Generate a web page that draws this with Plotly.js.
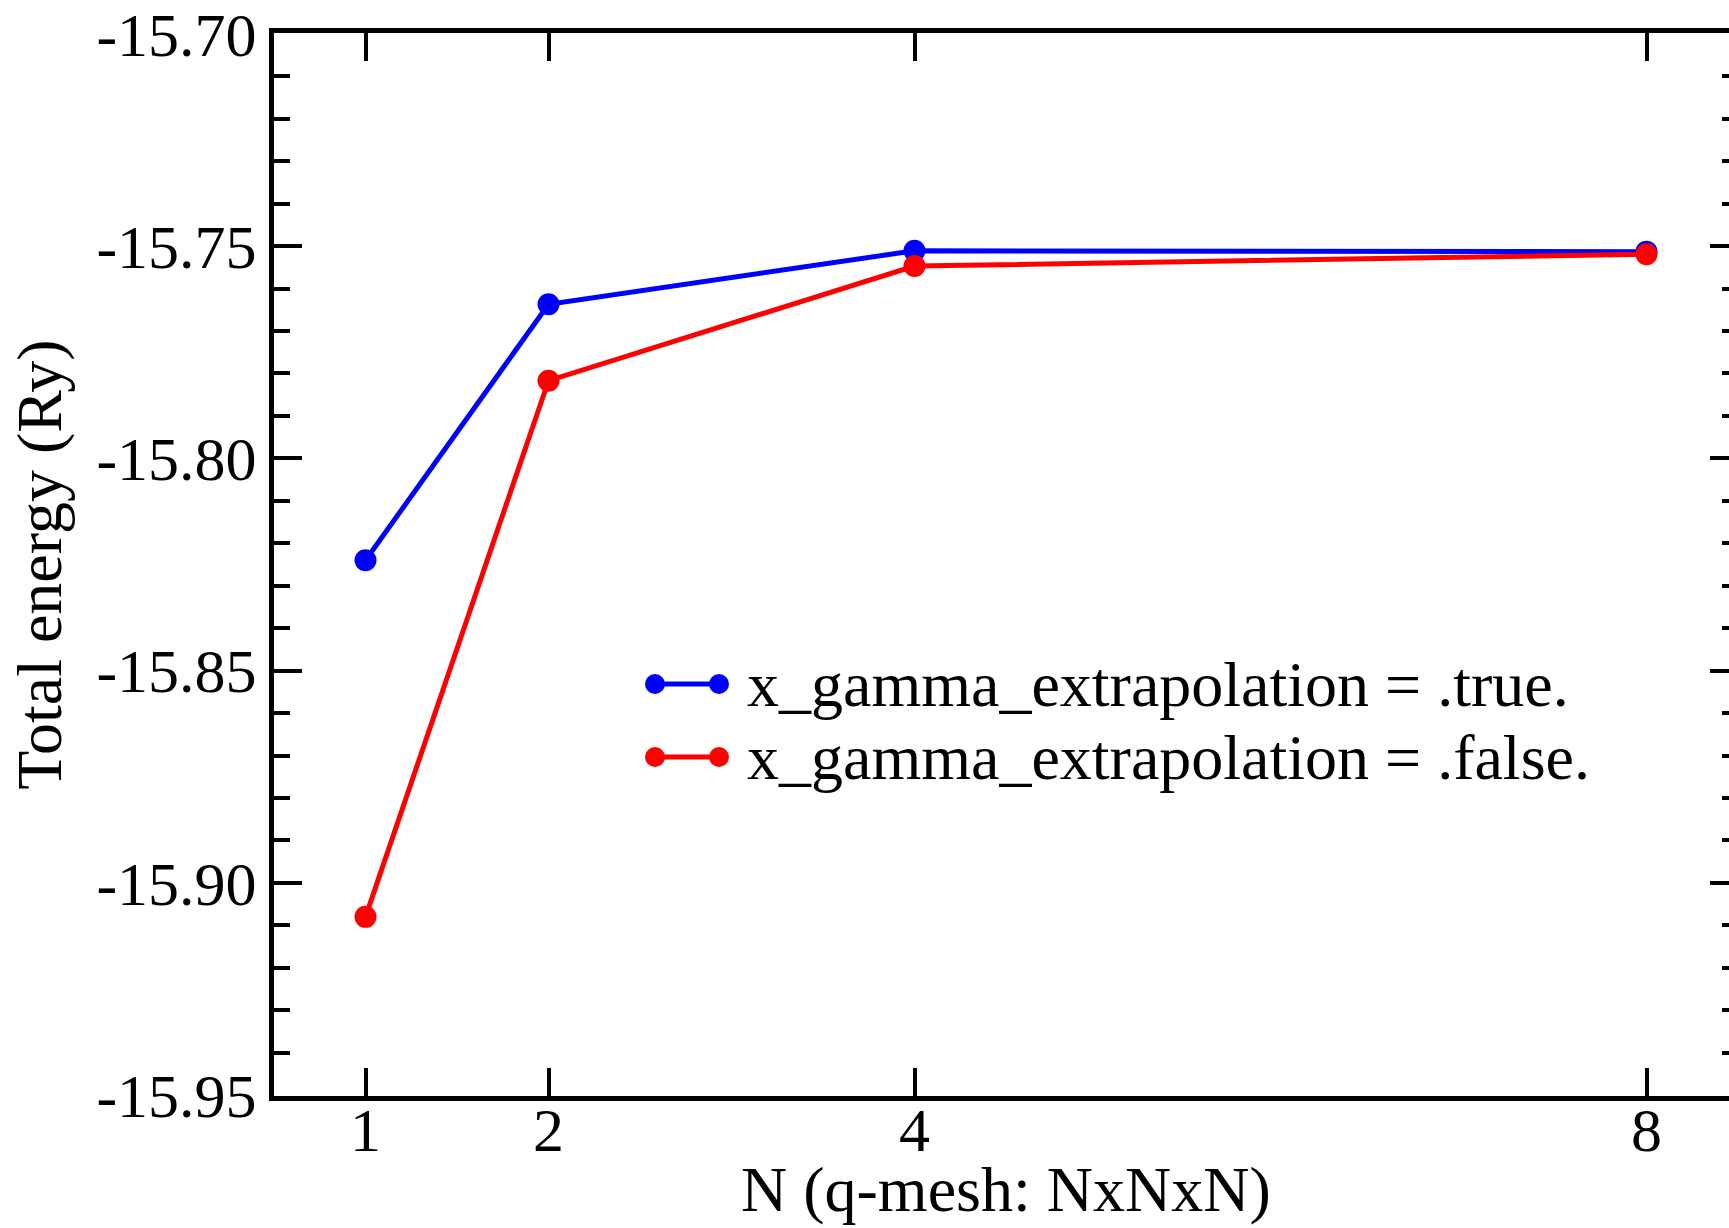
<!DOCTYPE html>
<html>
<head>
<meta charset="utf-8">
<script src="https://cdn.plot.ly/plotly-3.0.1.min.js"></script>
<style>
html, body { margin: 0; padding: 0; overflow: hidden; background: #fff; }
#chart { width: 1745px; height: 1228px; }
</style>
</head>
<body>
<div id="chart"></div>
<script>
// ---- data ----
const qMesh = [1, 2, 4, 8];
const energyGammaTrue = [-15.824, -15.7637, -15.7511, -15.7513];
const energyGammaFalse = [-15.908, -15.7817, -15.7547, -15.7519];
const seriesNames = ["x_gamma_extrapolation = .true.", "x_gamma_extrapolation = .false."];
const xTickVals = [1, 2, 4, 8];
const xTickLabels = ["1", "2", "4", "8"];
const yTickVals = [-15.95, -15.90, -15.85, -15.80, -15.75, -15.70];
const yTickLabels = ["-15.95", "-15.90", "-15.85", "-15.80", "-15.75", "-15.70"];

const FONT = "Liberation Serif, Times New Roman, serif";
const colors = ["#0000ff", "#ff0000"];

const traces = [
  {x: qMesh, y: energyGammaTrue, name: seriesNames[0], mode: "lines+markers",
   line: {color: colors[0], width: 5}, marker: {color: colors[0], size: 22}, showlegend: false},
  {x: qMesh, y: energyGammaFalse, name: seriesNames[1], mode: "lines+markers",
   line: {color: colors[1], width: 5}, marker: {color: colors[1], size: 22}, showlegend: false}
];

// plot area geometry (pixels) used for custom xmgrace-style legend and titles
const L = 274, R = 1738, T = 33, B = 1096;
const px = v => (v - L) / (R - L);
const py = v => (B - v) / (B - T);

const legendRows = [684, 757];
const shapes = [];
const annotations = [];
legendRows.forEach((yy, i) => {
  shapes.push({type: "line", xref: "paper", yref: "paper", x0: px(655), x1: px(719), y0: py(yy), y1: py(yy),
               line: {color: colors[i], width: 5}});
  [655, 719].forEach(cx => {
    shapes.push({type: "circle", xref: "paper", yref: "paper",
                 x0: px(cx - 10), x1: px(cx + 10), y0: py(yy + 10), y1: py(yy - 10),
                 fillcolor: colors[i], line: {color: colors[i], width: 0}});
  });
  annotations.push({xref: "paper", yref: "paper", x: px(745), y: py(yy), xanchor: "left", yanchor: "middle",
                    text: seriesNames[i], showarrow: false, font: {family: FONT, size: 64, color: "#000"}});
});
// x-axis title placed as annotation for exact vertical placement
annotations.push({xref: "paper", yref: "paper", x: 0.5, y: py(1227), xanchor: "center", yanchor: "bottom",
                  text: "N (q-mesh: NxNxN)", showarrow: false, font: {family: FONT, size: 64, color: "#000"}});

const layout = {
  width: 1745, height: 1228,
  margin: {l: L, r: 1745 - R, t: T, b: 1228 - B, pad: 0},
  paper_bgcolor: "#fff", plot_bgcolor: "#fff",
  showlegend: false,
  font: {family: FONT, color: "#000"},
  xaxis: {
    range: [0.5, 8.5], showgrid: false, zeroline: false,
    showline: true, linecolor: "#000", linewidth: 5, mirror: "ticks",
    ticks: "inside", ticklen: 28, tickwidth: 4, tickcolor: "#000",
    tickmode: "array", tickvals: xTickVals, ticktext: xTickLabels,
    tickfont: {family: FONT, size: 62, color: "#000"},
    ticklabelstandoff: -24
  },
  yaxis: {
    range: [-15.9502, -15.6998], showgrid: false, zeroline: false,
    showline: true, linecolor: "#000", linewidth: 5, mirror: "ticks",
    ticks: "inside", ticklen: 28, tickwidth: 4, tickcolor: "#000",
    tickmode: "array", tickvals: yTickVals, ticktext: yTickLabels,
    tickfont: {family: FONT, size: 62, color: "#000"},
    minor: {dtick: 0.01, tick0: -15.95, ticks: "inside", ticklen: 16, tickwidth: 4, tickcolor: "#000", showgrid: false},
    title: {text: "Total energy (Ry)", font: {family: FONT, size: 64, color: "#000"}, standoff: 16}
  },
  shapes: shapes,
  annotations: annotations
};

Plotly.newPlot("chart", traces, layout, {staticPlot: true, displayModeBar: false});
</script>
</body>
</html>
